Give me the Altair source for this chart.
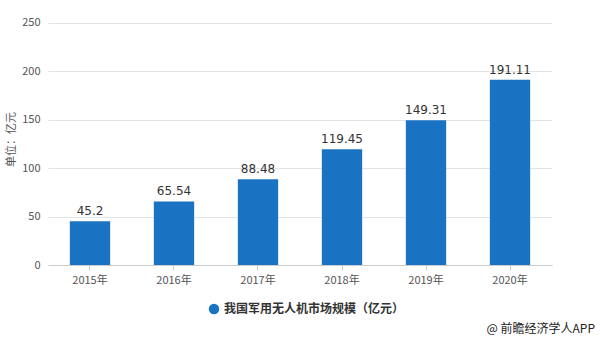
import altair as alt
import pandas as pd

years = ["2015年", "2016年", "2017年", "2018年", "2019年", "2020年"]
values = [45.2, 65.54, 88.48, 119.45, 149.31, 191.11]
series_name = "我国军用无人机市场规模（亿元）"
y_ticks = [0, 50, 100, 150, 200, 250]
credit = "@ 前瞻经济学人APP"

df = pd.DataFrame({"year": years, "value": values, "series": series_name})
font = "Noto Sans CJK SC"

x = alt.X("year:N", sort=years, title=None,
          scale=alt.Scale(paddingInner=0.52, paddingOuter=0.26),
          axis=alt.Axis(labelAngle=0, labelFontSize=11, labelColor="#555555",
                        labelFont=font, domainColor="#cccccc", tickColor="#cccccc",
                        tickSize=5, labelPadding=4, grid=False))
y = alt.Y("value:Q", title="单位：亿元",
          scale=alt.Scale(domain=[0, 250]),
          axis=alt.Axis(values=y_ticks, labelFontSize=11, labelColor="#555555",
                        labelFont=font, titleFont=font, titleFontSize=11,
                        titleColor="#555555", titleFontWeight="normal",
                        gridColor="#e3e3e3", domain=False, ticks=False,
                        labelPadding=8, titlePadding=5))

bars = alt.Chart(df).mark_bar(color="#1a73c2").encode(
    x=x, y=y,
    color=alt.Color("series:N", scale=alt.Scale(range=["#1a73c2"]),
                    legend=alt.Legend(title=None, orient="none", legendX=160, legendY=290,
                                      symbolType="circle", symbolSize=110, labelLimit=400,
                                      labelFont=font, labelFontSize=12,
                                      labelFontWeight="bold", labelColor="#333333")),
)

labels = alt.Chart(df).mark_text(dy=-10, fontSize=12, font="DejaVu Sans",
                                 color="#333333", fontWeight="normal").encode(
    x=alt.X("year:N", sort=years), y="value:Q", text=alt.Text("value:Q", format="")
)

credit_df = pd.DataFrame({"t": [credit]})
credit_mark = alt.Chart(credit_df).mark_text(align="right", baseline="middle",
                                             fontSize=12, font=font, color="#222222").encode(
    text="t:N", x=alt.value(547), y=alt.value(316)
)

chart = alt.layer(bars, labels, credit_mark).properties(
    width=504, height=252,
    background="white",
    padding={"left": 48, "top": 13, "right": 48, "bottom": 76},
    autosize=alt.AutoSizeParams(type="none"),
).configure_view(strokeWidth=0)

chart.save("out.html", embed_options={"renderer": "svg", "actions": False})
